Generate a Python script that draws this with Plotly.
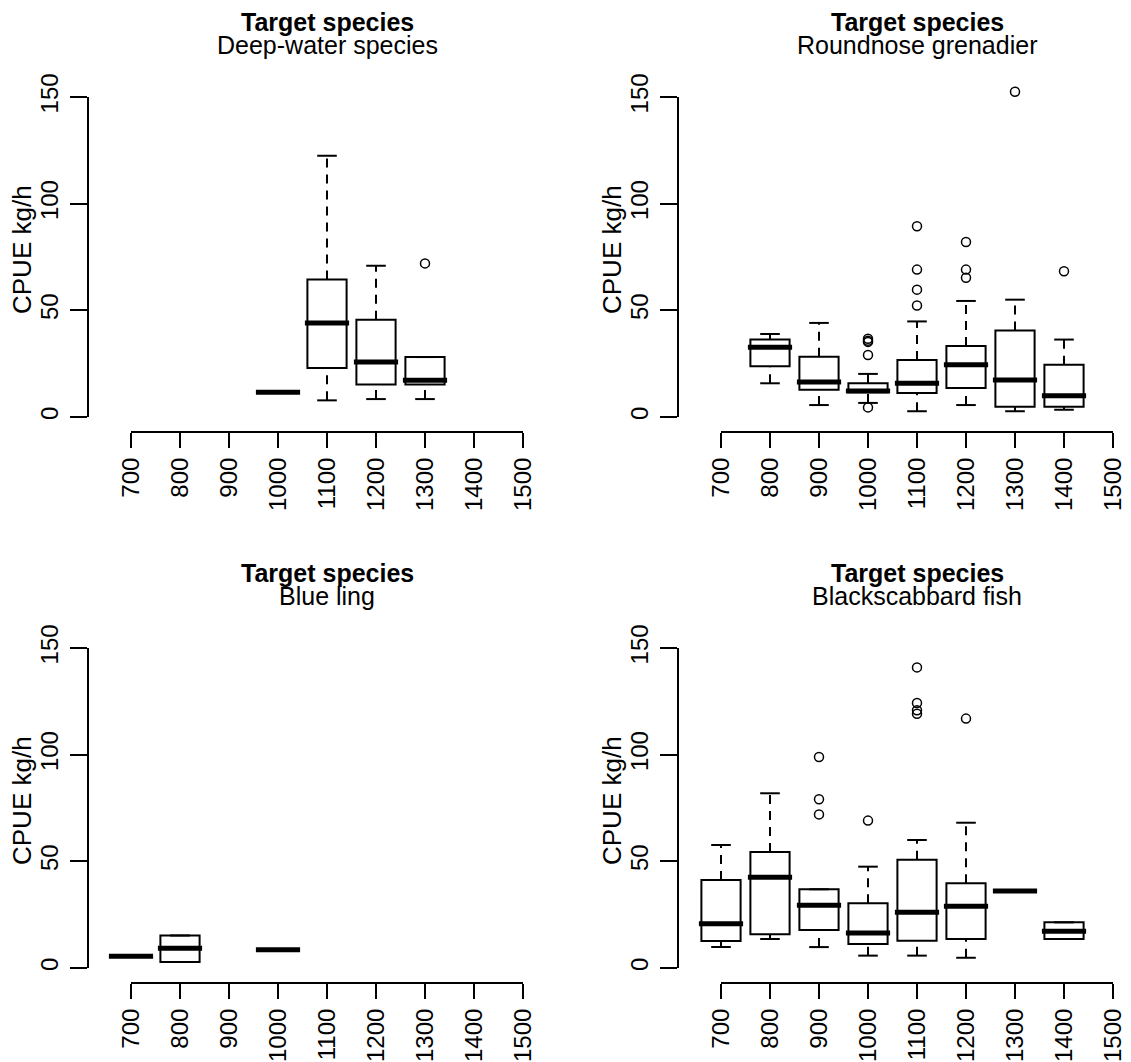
import plotly.graph_objects as go

# ---------------- data ----------------
depth_labels = ["700", "800", "900", "1000", "1100", "1200", "1300", "1400", "1500"]
y_ticks = [0, 50, 100, 150]
panel_titles = ["Deep-water species", "Roundnose grenadier", "Blue ling", "Blackscabbard fish"]

# Deep-water species
dw_depth = ["1000", "1100", "1200", "1300"]
dw_low = [11.6, 7.8, 8.4, 8.4]
dw_q1 = [11.6, 23.0, 15.2, 15.2]
dw_med = [11.6, 44.1, 25.8, 17.2]
dw_q3 = [11.6, 64.4, 45.6, 28.1]
dw_high = [11.6, 122.5, 70.9, 28.1]
dw_out_depth = ["1300"]
dw_out = [72.0]

# Roundnose grenadier
rn_depth = ["800", "900", "1000", "1100", "1200", "1300", "1400"]
rn_low = [15.8, 5.6, 6.6, 2.7, 5.6, 2.7, 3.4]
rn_q1 = [23.8, 12.8, 11.6, 11.3, 13.6, 4.8, 4.8]
rn_med = [32.7, 16.4, 12.2, 15.8, 24.5, 17.3, 10.0]
rn_q3 = [36.3, 28.3, 15.8, 26.7, 33.3, 40.5, 24.5]
rn_high = [38.9, 44.1, 20.2, 44.8, 54.4, 55.0, 36.3]
rn_out_depth = ["1000", "1000", "1000", "1000", "1000",
                "1100", "1100", "1100", "1100",
                "1200", "1200", "1200", "1300", "1400"]
rn_out = [36.7, 35.8, 35.2, 29.1, 4.5,
          89.4, 69.1, 59.7, 52.3,
          82.0, 69.1, 65.3, 152.5, 68.3]

# Blue ling
bl_depth = ["700", "800", "1000"]
bl_low = [5.5, 2.8, 8.6]
bl_q1 = [5.5, 2.8, 8.6]
bl_med = [5.5, 9.2, 8.6]
bl_q3 = [5.5, 15.2, 8.6]
bl_high = [5.5, 15.2, 8.6]
bl_out_depth = []
bl_out = []

# Blackscabbard fish
bs_depth = ["700", "800", "900", "1000", "1100", "1200", "1300", "1400"]
bs_low = [9.8, 13.6, 9.8, 5.8, 5.8, 4.8, 36.1, 13.6]
bs_q1 = [12.7, 15.8, 17.8, 11.3, 12.8, 13.6, 36.1, 13.6]
bs_med = [20.8, 42.5, 29.4, 16.4, 26.1, 28.9, 36.1, 17.2]
bs_q3 = [41.3, 54.4, 36.9, 30.3, 50.8, 39.7, 36.1, 21.4]
bs_high = [57.7, 81.9, 36.9, 47.5, 60.0, 68.1, 36.1, 21.4]
bs_out_depth = ["900", "900", "900", "1000", "1100", "1100", "1100", "1100", "1200"]
bs_out = [98.9, 79.1, 72.0, 69.1, 140.9, 124.2, 120.8, 119.2, 116.9]

# ---------------- layout geometry (page pixels) ----------------
PAGE_W, PAGE_H = 1131, 1062
BODY = 8                        # default page margin around the figure
W, H = PAGE_W - BODY, PAGE_H - BODY
TICK_L, TICK_R = 131, 523       # first / last x tick (top-left panel)
Y0_PX, Y150_PX = 417, 97        # y of value 0 / 150
YAX_PX = 88                     # x of y-axis line
XAX_PX = 432                    # y of x-axis line
PLOT_TOP, PLOT_BOT = 78, 430
DX, DY = 590, 551               # panel offsets
FONT = "Liberation Sans, Arial, sans-serif"
BOX_W = 0.8


def fx(px):
    return min(max((px - BODY) / W, 0.0), 1.0)


def fy(py):
    return min(max(1 - (py - BODY) / H, 0.0), 1.0)


unit = (TICK_R - TICK_L) / (len(depth_labels) - 1)
yscale = (Y0_PX - Y150_PX) / (y_ticks[-1] - y_ticks[0])

panels = [
    (dw_depth, dw_low, dw_q1, dw_med, dw_q3, dw_high, dw_out_depth, dw_out, 0, 0),
    (rn_depth, rn_low, rn_q1, rn_med, rn_q3, rn_high, rn_out_depth, rn_out, DX, 0),
    (bl_depth, bl_low, bl_q1, bl_med, bl_q3, bl_high, bl_out_depth, bl_out, 0, DY),
    (bs_depth, bs_low, bs_q1, bs_med, bs_q3, bs_high, bs_out_depth, bs_out, DX, DY),
]

fig = go.Figure()
layout = {}
annotations = []
tick_pos = list(range(1, len(depth_labels) + 1))


def axname(kind, n):
    return f"{kind}axis" if n == 1 else f"{kind}axis{n}"


def axid(kind, n):
    return kind if n == 1 else f"{kind}{n}"


for i, (dep, low, q1, med, q3, high, odep, oval, ox, oy) in enumerate(panels):
    nd = 2 * i + 1   # data axes
    nv = 2 * i + 2   # visible axes
    xd, yd = axid("x", nd), axid("y", nd)
    xv, yv = axid("x", nv), axid("y", nv)
    pos = [depth_labels.index(d) + 1 for d in dep]
    opos = [depth_labels.index(d) + 1 for d in odep]

    # boxes (body only)
    fig.add_trace(go.Box(
        x=pos, q1=q1, median=med, q3=q3, lowerfence=q1, upperfence=q3,
        width=BOX_W, whiskerwidth=0, fillcolor="white",
        line=dict(color="black", width=2), boxpoints=False,
        xaxis=xd, yaxis=yd, showlegend=False, hoverinfo="skip"))

    # dashed whiskers
    wx, wy = [], []
    for p, a, b, c, d in zip(pos, low, q1, q3, high):
        if c < d:
            wx += [p, p, None]
            wy += [c, d, None]
        if a < b:
            wx += [p, p, None]
            wy += [a, b, None]
    fig.add_trace(go.Scatter(x=wx, y=wy, mode="lines",
                             line=dict(color="black", width=2, dash="9px,7px"),
                             xaxis=xd, yaxis=yd, showlegend=False, hoverinfo="skip"))

    # staples
    sx, sy = [], []
    for p, a, d in zip(pos, low, high):
        for v in (a, d):
            sx += [p - BOX_W / 4, p + BOX_W / 4, None]
            sy += [v, v, None]
    fig.add_trace(go.Scatter(x=sx, y=sy, mode="lines",
                             line=dict(color="black", width=2),
                             xaxis=xd, yaxis=yd, showlegend=False, hoverinfo="skip"))

    # thick medians
    mx, my = [], []
    ext = 2.5 / unit
    for p, m in zip(pos, med):
        mx += [p - BOX_W / 2 - ext, p + BOX_W / 2 + ext, None]
        my += [m, m, None]
    fig.add_trace(go.Scatter(x=mx, y=my, mode="lines",
                             line=dict(color="black", width=5),
                             xaxis=xd, yaxis=yd, showlegend=False, hoverinfo="skip"))

    # outliers
    if oval:
        fig.add_trace(go.Scatter(x=opos, y=oval, mode="markers",
                                 marker=dict(symbol="circle-open", size=9, color="black",
                                             line=dict(width=1.5, color="black")),
                                 cliponaxis=False,
                                 xaxis=xd, yaxis=yd, showlegend=False, hoverinfo="skip"))

    # carrier trace for the visible (R-style) axes
    fig.add_trace(go.Scatter(x=tick_pos, y=[None] * len(tick_pos), mode="markers",
                             xaxis=xv, yaxis=yv, showlegend=False, hoverinfo="skip"))

    # data axes: pixel extent clamped to the page, range derived from the pixel mapping
    left_px = max(ox + TICK_L - 0.5 * unit, BODY)
    right_px = min(ox + TICK_R + 0.5 * unit, PAGE_W)
    layout[axname("x", nd)] = dict(
        domain=[fx(left_px), fx(right_px)],
        range=[1 + (left_px - ox - TICK_L) / unit, 1 + (right_px - ox - TICK_L) / unit],
        visible=False, anchor=yd, fixedrange=True)
    layout[axname("y", nd)] = dict(
        domain=[fy(oy + PLOT_BOT), fy(oy + PLOT_TOP)],
        range=[(Y0_PX - PLOT_BOT) / yscale, (Y0_PX - PLOT_TOP) / yscale],
        visible=False, anchor=xd, fixedrange=True)
    layout[axname("x", nv)] = dict(
        domain=[fx(ox + TICK_L), fx(ox + TICK_R)], range=[1, len(depth_labels)],
        anchor="free", position=fy(oy + XAX_PX), side="bottom",
        tickmode="array", tickvals=tick_pos, ticktext=depth_labels, tickangle=-90,
        ticks="outside", ticklen=15, tickwidth=2, tickcolor="black",
        showline=True, linecolor="black", linewidth=2, showgrid=False, zeroline=False,
        tickfont=dict(family=FONT, size=24, color="black"), automargin=False, fixedrange=True)
    layout[axname("y", nv)] = dict(
        domain=[fy(oy + Y0_PX), fy(oy + Y150_PX)], range=[y_ticks[0], y_ticks[-1]],
        anchor="free", position=fx(ox + YAX_PX), side="left",
        tickmode="array", tickvals=y_ticks, ticktext=[str(t) for t in y_ticks], tickangle=-90,
        ticks="outside", ticklen=17, tickwidth=2, tickcolor="black", ticklabelstandoff=2,
        showline=True, linecolor="black", linewidth=2, showgrid=False, zeroline=False,
        tickfont=dict(family=FONT, size=24, color="black"), automargin=False, fixedrange=True)

    cx = fx(ox + (TICK_L + TICK_R) / 2)
    annotations.append(dict(text="<b>Target species</b>", x=cx, y=fy(oy + 22),
                            xref="paper", yref="paper", xanchor="center", yanchor="middle",
                            showarrow=False, font=dict(family=FONT, size=25, color="black")))
    annotations.append(dict(text=panel_titles[i], x=cx, y=fy(oy + 45),
                            xref="paper", yref="paper", xanchor="center", yanchor="middle",
                            showarrow=False, font=dict(family=FONT, size=25, color="black")))
    annotations.append(dict(text="CPUE kg/h", x=fx(ox + 22), y=fy(oy + 250), textangle=-90,
                            xref="paper", yref="paper", xanchor="center", yanchor="middle",
                            showarrow=False, font=dict(family=FONT, size=26, color="black")))

fig.update_layout(
    width=W, height=H, autosize=False,
    margin=dict(l=0, r=0, t=0, b=0, pad=0),
    paper_bgcolor="white", plot_bgcolor="rgba(0,0,0,0)",
    showlegend=False, annotations=annotations,
    font=dict(family=FONT, color="black"),
    **layout)

fig.write_html("out.html")
